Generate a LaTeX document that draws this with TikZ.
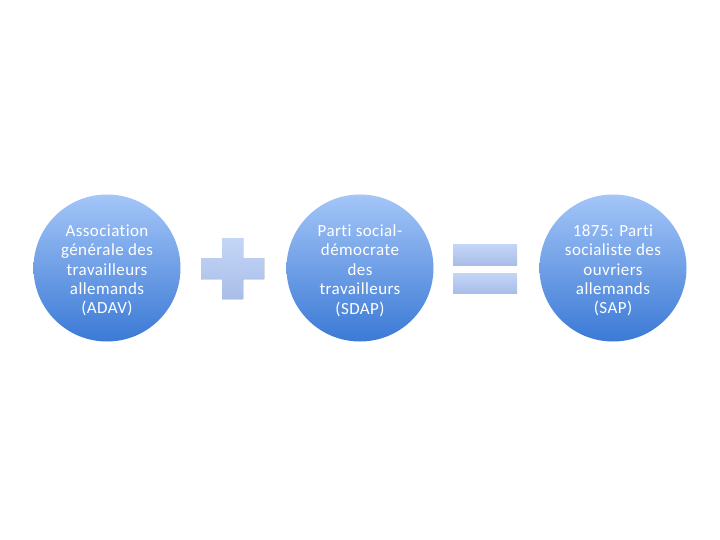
\documentclass[tikz,border=0pt]{standalone}
\usepackage{fontspec}
\setmainfont{Carlito}[RawFeature=-liga,LetterSpace=2.5]
\begin{document}
\begin{tikzpicture}[x=1pt,y=-1pt,
  bubble/.style={circle,minimum size=147pt,inner sep=0pt,top color=circtop,bottom color=circbot,middle color=circmid},
  bubbletext/.style={text=white,align=center,font=\fontsize{17}{19.4}\selectfont},
  opshape/.style={top color=optop,bottom color=opbot,draw=none}]
\definecolor{circtop}{HTML}{A4C6F8}
\definecolor{circmid}{HTML}{6F9FE6}
\definecolor{circbot}{HTML}{3B7AD6}
\definecolor{optop}{HTML}{C4D6F6}
\definecolor{opbot}{HTML}{A9BDE8}
\useasboundingbox (0,0) rectangle (720,540);
\fill[white] (0,0) rectangle (720,540);
\node[bubble] (a) at (107,268) {};
\node[bubble] (b) at (360,268) {};
\node[bubble] (c) at (613,268) {};
\node[bubbletext] (ta) at (107,270.5) {Association\\générale des\\travailleurs\\allemands\\(ADAV)};
\node[bubbletext] (tb) at (360,270.5) {Parti social-\\démocrate\\des\\travailleurs\\(SDAP)};
\node[bubbletext] (tc) at (613,270.5) {1875: Parti\\socialiste des\\ouvriers\\allemands\\(SAP)};
\fill[opshape] (222,238) rectangle (243,258) (201,258) rectangle (264,279) (222,279) rectangle (243,299);
\fill[opshape] (453,244) rectangle (517,265);
\fill[opshape] (453,273) rectangle (517,293);
\end{tikzpicture}
\end{document}
